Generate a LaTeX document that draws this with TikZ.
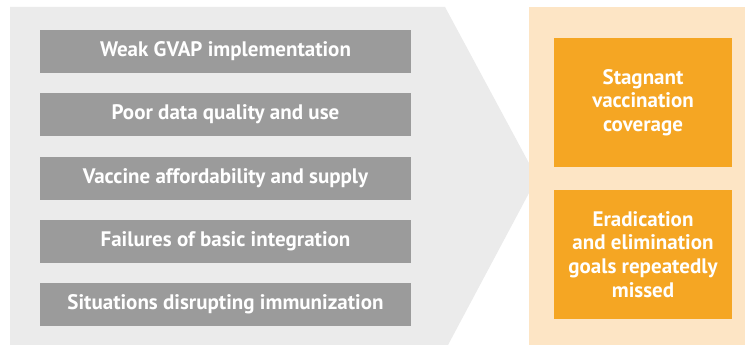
\documentclass[tikz,border=0pt]{standalone}
\usepackage{fontspec}
\setmainfont{PT Sans}
\definecolor{panelgray}{HTML}{EBEBEB}
\definecolor{boxgray}{HTML}{9B9B9B}
\definecolor{peach}{HTML}{FDE5C5}
\definecolor{orangebox}{HTML}{F5A623}
\begin{document}
\begin{tikzpicture}[x=1pt,y=-1pt,
  cause/.style={fill=boxgray,draw=none,minimum width=371pt,minimum height=43pt,inner sep=0pt,
    text=white,font=\bfseries\fontsize{21}{24}\selectfont},
  effect/.style={fill=orangebox,draw=none,minimum width=178pt,minimum height=129pt,inner sep=0pt,
    text=white,align=center,font=\bfseries\fontsize{21}{23.7}\selectfont}]
\useasboundingbox (0,0) rectangle (745,345);
\fill[white] (0,0) rectangle (745,345);
\fill[panelgray] (10,7) -- (445,7) -- (537,178) -- (448,345) -- (10,345) -- cycle;
\fill[peach] (529,7) rectangle (745,345);
\node[cause] (c1) at (225.5,51.5) {Weak GVAP implementation};
\node[cause] (c2) at (225.5,114.5) {Poor data quality and use};
\node[cause] (c3) at (225.5,178.5) {Vaccine affordability and supply};
\node[cause] (c4) at (225.5,241.5) {Failures of basic integration};
\node[cause] (c5) at (225.5,304.5) {Situations disrupting immunization};
\node[effect] (e1) at (643,102.5) {Stagnant\\vaccination\\coverage};
\node[effect] (e2) at (643,254.5) {Eradication\\and elimination\\goals repeatedly\\missed};
\end{tikzpicture}
\end{document}
